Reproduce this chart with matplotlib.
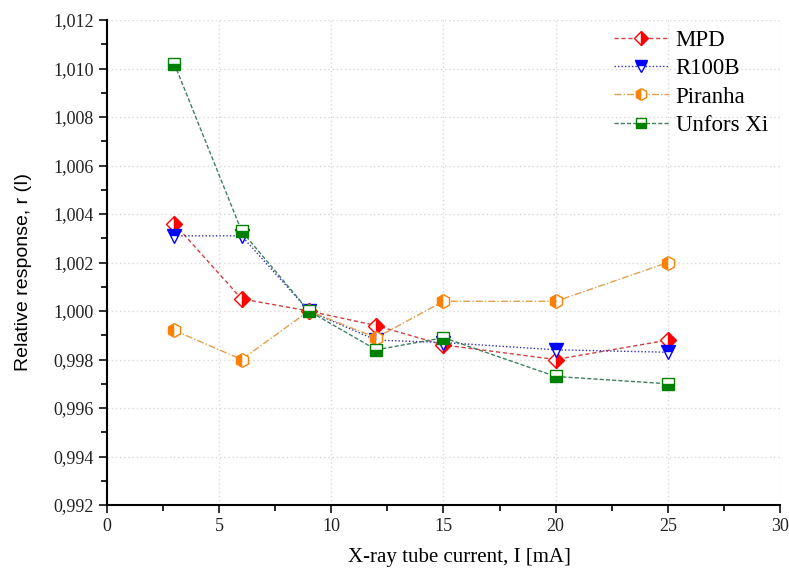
import numpy as np
import matplotlib
matplotlib.use("Agg")
import matplotlib.pyplot as plt
from matplotlib.ticker import MultipleLocator, FuncFormatter

plt.rcParams['font.family'] = ['Liberation Serif', 'DejaVu Serif']

# Dados
corrente = [3, 6, 9, 12, 15, 20, 25]
mpd = [1.0036, 1.0005, 1.0000, 0.9994, 0.9986, 0.9980, 0.9988]
r100b = [1.0031, 1.0031, 1.0000, 0.9988, 0.9987, 0.9984, 0.9983]
piranha = [0.9992, 0.9980, 1.0000, 0.9989, 1.0004, 1.0004, 1.0020]
unfors = [1.0102, 1.0033, 1.0000, 0.9984, 0.9989, 0.9973, 0.9970]

fig = plt.figure(figsize=(7.89, 5.80), dpi=100)
ax = fig.add_axes([0.1356, 0.1293, 0.853, 0.8362])

ax.plot(corrente, mpd, color='#d04040', linestyle=(0, (3, 2)), linewidth=1.0,
        marker='D', markersize=8, fillstyle='right', markerfacecolor='#ff0000',
        markerfacecoloralt='white', markeredgecolor='#ff0000', label='MPD', zorder=3)
ax.plot(corrente, r100b, color='#3030c0', linestyle=(0, (1, 1.5)), linewidth=1.0,
        marker='v', markersize=10, fillstyle='top', markerfacecolor='#0000ff',
        markerfacecoloralt='white', markeredgecolor='#0000ff', label='R100B', zorder=3)
ax.plot(corrente, piranha, color='#e0a050', linestyle=(0, (5, 1.5, 1, 1.5)), linewidth=1.0,
        marker='h', markersize=10, fillstyle='left', markerfacecolor='#ff8000',
        markerfacecoloralt='white', markeredgecolor='#ff8000', label='Piranha', zorder=3)
ax.plot(corrente, unfors, color='#408060', linestyle=(0, (3, 1.5)), linewidth=1.0,
        marker='s', markersize=9, fillstyle='bottom', markerfacecolor='#008000',
        markerfacecoloralt='white', markeredgecolor='#008000', label='Unfors Xi', zorder=3)

ax.set_xlim(0, 30)
ax.set_ylim(0.992, 1.012)
ax.xaxis.set_major_locator(MultipleLocator(5))
ax.xaxis.set_minor_locator(MultipleLocator(2.5))
ax.yaxis.set_major_locator(MultipleLocator(0.002))
ax.yaxis.set_minor_locator(MultipleLocator(0.001))
ax.yaxis.set_major_formatter(FuncFormatter(lambda v, p: f"{v:.3f}".replace('.', ',')))

for s in ['top', 'right']:
    ax.spines[s].set_visible(False)
for s in ['left', 'bottom']:
    ax.spines[s].set_linewidth(1.5)

ax.tick_params(which='major', direction='out', length=6, width=1.3, labelsize=13, colors='#222222')
ax.tick_params(which='minor', direction='out', length=4, width=1.2)
ax.grid(True, which='major', color='#d8d8d8', linestyle=(0, (1, 2)), linewidth=1.0)
ax.set_axisbelow(True)

ax.set_xlabel('X-ray tube current, I [mA]', fontsize=15)
ax.xaxis.set_label_coords(0.523, -0.088)
ax.set_ylabel('Relative response, r (I)', fontsize=14, family=['Liberation Sans', 'DejaVu Sans'])
ax.yaxis.set_label_coords(-0.111, 0.48)

leg = ax.legend(loc='upper right', frameon=False, fontsize=16.5, handlelength=2.4,
                handletextpad=0.3, labelspacing=0.32, borderpad=0, borderaxespad=0,
                bbox_to_anchor=(0.982, 0.98), markerscale=0.85)

fig.savefig('out.png', dpi=100)
